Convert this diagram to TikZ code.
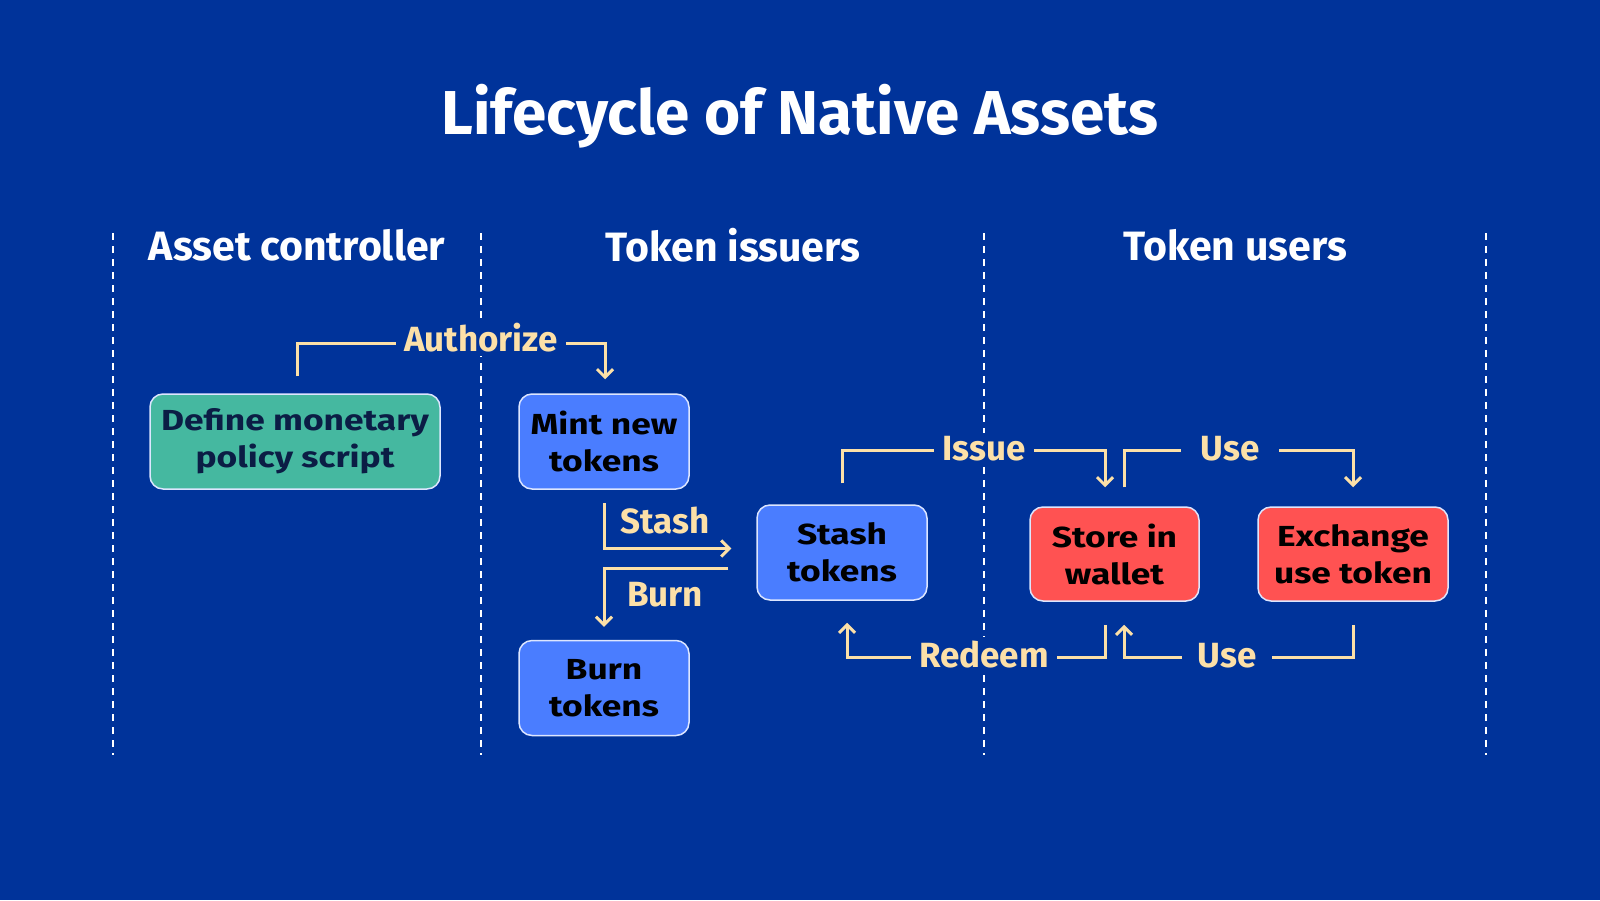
\documentclass[tikz,border=0pt]{standalone}
\usepackage{fontspec}
\setmainfont{Fira Sans}
\newfontfamily\boxfont{Fira Sans}[FakeStretch=1.22]
\usetikzlibrary{arrows.meta}
\definecolor{bg}{HTML}{00339A}
\definecolor{cream}{HTML}{FCE0A8}
\definecolor{greenbox}{HTML}{45B8A0}
\definecolor{bluebox}{HTML}{4A7DFF}
\definecolor{redbox}{HTML}{FF5252}
\definecolor{navytext}{HTML}{0B1D45}
\definecolor{boxline}{HTML}{DDE6FF}
\tikzset{
  boxbase/.style={draw=boxline, line width=1.5pt, rounded corners=13pt, align=center,
    font=\boxfont\fontsize{29}{37}\selectfont\bfseries, inner sep=0pt, minimum height=95pt},
  greenbx/.style={boxbase, fill=greenbox, text=navytext, minimum width=290pt},
  bluebx/.style={boxbase, fill=bluebox, text=black, minimum width=170pt},
  redbx/.style={boxbase, fill=redbox, text=black, minimum width=169pt, minimum height=94pt},
  flow/.style={draw=cream, line width=3pt, -{Straight Barb[length=8pt,width=16pt,line width=3pt]}},
  lbl/.style={fill=bg, text=cream, font=\fontsize{35}{38}\selectfont\bfseries, inner xsep=8pt, inner ysep=4pt},
  header/.style={text=white, font=\fontsize{41}{44}\selectfont\bfseries},
  divider/.style={draw=white, line width=2pt, dash pattern=on 7pt off 6pt},
}
\begin{document}
\begin{tikzpicture}[x=1pt,y=-1pt]
\fill[bg] (0,0) rectangle (1600,900);
\useasboundingbox (0,0) rectangle (1600,900);

\node[text=white, font=\fontsize{62}{68}\selectfont\bfseries] (title) at (800,116) {Lifecycle of Native Assets};

\foreach \x/\n in {113/d1,481/d2,984/d3,1486/d4}{
  \coordinate (\n top) at (\x,233);
  \coordinate (\n bot) at (\x,755);
  \draw[divider] (\n top) -- (\n bot);
}

\node[header] (h1) at (297,245) {Asset controller};
\node[header] (h2) at (733,245) {Token issuers};
\node[header] (h3) at (1235,245) {Token users};

\node[greenbx] (def) at (295,441.5) {Define monetary\\policy script};
\node[bluebx] (mint) at (604,441.5) {Mint new\\tokens};
\node[bluebx] (stashb) at (842,552.5) {Stash\\tokens};
\node[bluebx] (burn) at (604,688) {Burn\\tokens};
\node[redbx] (store) at (1114.5,554) {Store in\\wallet};
\node[redbx, minimum width=190pt] (exch) at (1353,554) {Exchange\\use token};

% connectors
\draw[flow] ([xshift=2pt,yshift=17pt]def.north) -- ++(0,-33) -| ([xshift=1pt,yshift=14pt]mint.north);
\node[lbl] (auth) at (481,338) {Authorize};

\draw[flow] ([yshift=-13pt]mint.south) |- ([xshift=-25pt,yshift=4pt]stashb.west);
\node[lbl, fill=none] (stashl) at (665,521) {Stash};

\draw[flow] ([xshift=-28pt,yshift=-16pt]stashb.west) -| ([yshift=13pt]burn.north);
\node[lbl, fill=none] (burnl) at (665,595) {Burn};

\draw[flow] ([yshift=21pt]stashb.north) -- ++(0,-33) -| ([xshift=-9.5pt,yshift=19pt]store.north);
\node[lbl] (issue) at (984,449) {Issue};

\draw[flow] ([xshift=9.5pt,yshift=19pt]store.north) -- ++(0,-37) -| ([yshift=19pt]exch.north);
\node[lbl, inner xsep=20pt] (use1) at (1230,449) {Use};

\draw[flow] ([xshift=-9.5pt,yshift=-23pt]store.south) -- ++(0,33) -| ([xshift=5pt,yshift=-22pt]stashb.south);
\node[lbl] (redeem) at (984,655) {Redeem};

\draw[flow] ([yshift=-23pt]exch.south) -- ++(0,33) -| ([xshift=9.5pt,yshift=-23pt]store.south);
\node[lbl, inner xsep=16pt] (use2) at (1227,656) {Use};
\end{tikzpicture}
\end{document}
